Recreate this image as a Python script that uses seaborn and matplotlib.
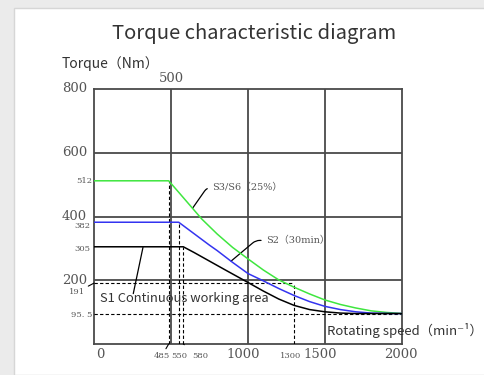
import matplotlib
matplotlib.use("Agg")
import matplotlib.pyplot as plt
import pandas as pd
import seaborn as sns
from matplotlib.patches import Rectangle

# Torque limit curves: speed (min^-1) vs. torque (Nm)
s3_speed = [0, 485, 550, 600, 650, 700, 800, 900, 1000, 1100, 1200, 1300, 1400, 1500, 1600, 1700, 1800, 1900, 2000]
s3_torque = [512, 512, 476, 448, 420, 392, 345, 303, 267, 232, 201, 178, 157, 138, 124, 113, 104, 99, 95.5]

s2_speed = [0, 550, 600, 650, 700, 750, 800, 900, 1000, 1100, 1200, 1300, 1400, 1500, 1600, 1700, 1800, 1900, 2000]
s2_torque = [382, 382, 364, 346, 328, 310, 293, 256, 221, 198, 174, 152, 133, 118, 108, 101, 97, 96, 95.5]

s1_speed = [0, 580, 650, 750, 850, 1000, 1100, 1200, 1300, 1400, 1500, 1600, 1700, 2000]
s1_torque = [305, 305, 287, 260, 233, 193, 166, 141, 121, 108, 101, 97, 95.5, 95.5]

# Axis ticks and marked points
grid_speed = [500, 1000, 1500]
grid_torque = [200, 400, 600]
major_torque_labels = [800, 600, 400, 200]
corner_speeds = [485, 550, 580]
corner_torques = [512, 382, 305]
s1_limit_torque = 191
s1_limit_speed = 1300
base_torque = 95.5
max_speed = 2000
max_torque = 800

GREEN = "#3fe63f"
BLUE = "#3434f0"
GRID = "#4a4a4a"
TXT = "#333333"
NUM = "#555555"

sns.set_theme(style="white")
plt.rcParams["font.family"] = ["Noto Sans CJK SC", "DejaVu Sans"]
SERIF = ["DejaVu Serif", "Noto Sans CJK SC", "DejaVu Sans"]

fig = plt.figure(figsize=(4.84, 3.75), dpi=100)
fig.patch.set_facecolor("#ebebeb")
# white panel behind the chart
panel = Rectangle((14 / 484, 0), 1, 1 - 8 / 375, transform=fig.transFigure,
                  facecolor="white", edgecolor="#d6d6d6", linewidth=1.0, zorder=-10)
fig.patches.append(panel)

ax = fig.add_axes([94 / 484, 31 / 375, 308 / 484, 255 / 375])
ax.set_facecolor("none")
ax.set_xlim(0, max_speed)
ax.set_ylim(0, max_torque)
ax.set_xticks([])
ax.set_yticks([])
for s in ax.spines.values():
    s.set_color(GRID)
    s.set_linewidth(1.3)

for v in grid_speed:
    ax.axvline(v, color=GRID, lw=1.3, zorder=1)
for v in grid_torque:
    ax.axhline(v, color=GRID, lw=1.3, zorder=1)

curves = pd.concat([
    pd.DataFrame({"speed": s3_speed, "torque": s3_torque, "mode": "S3/S6"}),
    pd.DataFrame({"speed": s2_speed, "torque": s2_torque, "mode": "S2"}),
    pd.DataFrame({"speed": s1_speed, "torque": s1_torque, "mode": "S1"}),
])
sns.lineplot(data=curves, x="speed", y="torque", hue="mode", sort=False,
             palette={"S3/S6": GREEN, "S2": BLUE, "S1": "black"},
             lw=1.1, legend=False, ax=ax, zorder=4)
ax.set_xlabel("")
ax.set_ylabel("")

dash = dict(color="black", lw=0.8, ls=(0, (3, 2)), zorder=3)
# corner-speed drop lines
for sp, tq in zip(corner_speeds, corner_torques):
    ax.plot([sp, sp], [0, tq], **dash)
# S1 continuous limit box and base torque line
ax.plot([0, s1_limit_speed], [s1_limit_torque, s1_limit_torque], **dash)
ax.plot([s1_limit_speed, s1_limit_speed], [0, s1_limit_torque], **dash)
ax.plot([0, max_speed], [base_torque, base_torque], **dash)

ylab = ("axes fraction", "data")
xlab = ("data", "axes fraction")

# y-axis labels
for v in major_torque_labels:
    ax.annotate(str(v), (0, v), xycoords=ylab, xytext=(-7, 0), textcoords="offset pixels",
                ha="right", va="center", fontsize=9.5, color=NUM, family=SERIF)
small_y = {512: (-2, 0), 382: (-4, -4), 305: (-4, -2)}
for v, off in small_y.items():
    ax.annotate(str(v), (0, v), xycoords=ylab, xytext=off, textcoords="offset pixels",
                ha="right", va="center", fontsize=6, color=NUM, family=SERIF)
ax.annotate(str(s1_limit_torque), (0, s1_limit_torque), xycoords=ylab, xytext=(-9, -9),
            textcoords="offset pixels", ha="right", va="center", fontsize=6, color=NUM,
            family=SERIF, arrowprops=dict(arrowstyle="-", lw=0.8, color="black",
                                          shrinkA=0, shrinkB=0))
ax.annotate("95. 5", (0, base_torque), xycoords=ylab, xytext=(-2, -1), textcoords="offset pixels",
            ha="right", va="center", fontsize=6, color=NUM, family=SERIF)

# x-axis labels
big_x = {0: 6, 1000: -5, 1500: -5, 2000: -1}
for v, off in big_x.items():
    ax.annotate(str(v), (v, 0), xycoords=xlab, xytext=(off, -11), textcoords="offset pixels",
                ha="center", va="center", fontsize=9.5, color=NUM, family=SERIF)
ax.annotate("500", (500, 1), xycoords=xlab, xytext=(0, 10), textcoords="offset pixels",
            ha="center", va="center", fontsize=9.5, color=NUM, family=SERIF)
small_x = {485: -7, 550: 1, 580: 17, 1300: -4}
for v, off in small_x.items():
    lead = None
    if v in (485, 580):
        lead = dict(arrowstyle="-", lw=0.8, color="black", shrinkA=5, shrinkB=0)
    ax.annotate(str(v), (v, 0), xycoords=xlab, xytext=(off, -12), textcoords="offset pixels",
                ha="center", va="center", fontsize=6, color=NUM, family=SERIF,
                arrowprops=lead)

# curve callouts
ax.annotate("S3/S6（25%）", (640, 426), xytext=(765, 490), textcoords="data",
            ha="left", va="center", fontsize=7, color=NUM, family=SERIF,
            arrowprops=dict(arrowstyle="-", lw=0.9, color="black", shrinkA=1, shrinkB=0,
                            connectionstyle="angle,angleA=0,angleB=55,rad=4"))
ax.annotate("S2（30min）", (890, 260), xytext=(1115, 325), textcoords="data",
            ha="left", va="center", fontsize=7, color=NUM, family=SERIF,
            arrowprops=dict(arrowstyle="-", lw=0.9, color="black", shrinkA=1, shrinkB=0,
                            connectionstyle="angle,angleA=0,angleB=40,rad=4"))
ax.annotate("", (318, 303), xytext=(255, 158), textcoords="data",
            arrowprops=dict(arrowstyle="-", lw=0.9, color="black", shrinkA=0, shrinkB=0))

ax.text(38, 143, "S1 Continuous working area", ha="left", va="center",
        fontsize=9.3, color=TXT, zorder=5)
ax.text(1510, 42, "Rotating speed（min⁻¹）", ha="left", va="center",
        fontsize=9.5, color=TXT, zorder=5, clip_on=False)

fig.text(62 / 484, 1 - 64 / 375, "Torque（Nm）", ha="left", va="center", fontsize=10, color=TXT)
fig.text(254 / 484, 1 - 33 / 375, "Torque characteristic diagram", ha="center", va="center",
         fontsize=14.5, color=TXT)

fig.savefig("out.png", dpi=100, facecolor=fig.get_facecolor())
